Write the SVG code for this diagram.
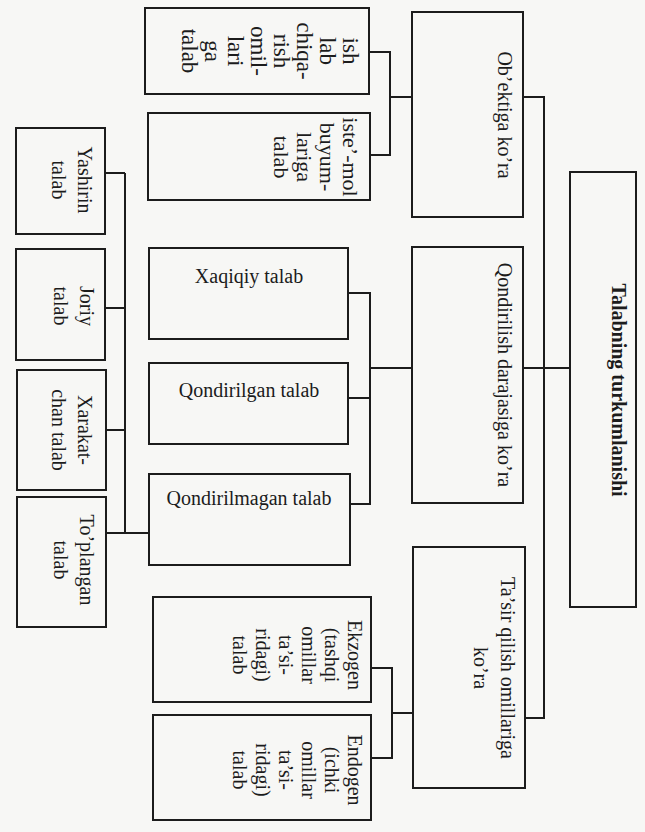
<svg xmlns="http://www.w3.org/2000/svg" width="645" height="832" viewBox="0 0 645 832">
<style>
.box{fill:none;stroke:#1c1c1c;stroke-width:2}
.ln{fill:none;stroke:#1c1c1c;stroke-width:2}
text{font-family:"Liberation Serif","Times New Roman",serif;font-size:20px;fill:#1c1c1c;text-anchor:middle}
.b{font-weight:bold}
.s23{font-size:23px}
.s22{font-size:22px}
</style>
<rect x="0" y="0" width="645" height="832" fill="#f7f7f5"/>
<g id="connectors">
<polyline class="ln" points="523,97 544,97 544,718 525,718"/>
<line class="ln" x1="570" y1="368" x2="523" y2="368"/>
<line class="ln" x1="412" y1="97" x2="390" y2="97"/>
<polyline class="ln" points="369,52 390,52 390,155 370,155"/>
<line class="ln" x1="412" y1="368" x2="370" y2="368"/>
<polyline class="ln" points="348,293 370,293 370,504 350,504"/>
<line class="ln" x1="348" y1="398" x2="370" y2="398"/>
<line class="ln" x1="413" y1="713" x2="392" y2="713"/>
<polyline class="ln" points="371,668 392,668 392,758 371,758"/>
<line class="ln" x1="149" y1="533" x2="125" y2="533"/>
<line class="ln" x1="125" y1="173" x2="125" y2="533"/>
<line class="ln" x1="105" y1="173" x2="125" y2="173"/>
<line class="ln" x1="105" y1="308" x2="125" y2="308"/>
<line class="ln" x1="106" y1="430" x2="125" y2="430"/>
<line class="ln" x1="106" y1="533" x2="125" y2="533"/>
</g>
<g id="title">
<rect class="box" x="570" y="172" width="66" height="435"/>
<text class="b" transform="translate(612,390) rotate(90)">Talabning turkumlanishi</text>
</g>
<g id="obektiga">
<rect class="box" x="412" y="12" width="111" height="205"/>
<text transform="translate(498,115) rotate(90)">Ob’ektiga ko’ra</text>
</g>
<g id="qondirilish">
<rect class="box" x="412" y="247" width="111" height="256"/>
<text transform="translate(498,375) rotate(90)">Qondirilish darajasiga ko’ra</text>
</g>
<g id="tasir">
<rect class="box" x="413" y="547" width="112" height="241"/>
<text transform="translate(501,668) rotate(90)"><tspan x="0" y="0">Ta’sir qilish omillariga</tspan><tspan x="0" y="27">ko’ra</tspan></text>
</g>
<g id="ishlab">
<rect class="box" x="145" y="8" width="224" height="86"/>
<text class="s23" transform="translate(343,51) rotate(90)"><tspan x="0" y="0">ish</tspan><tspan x="0" y="23">lab</tspan><tspan x="0" y="46">chiqa-</tspan><tspan x="0" y="69">rish</tspan><tspan x="0" y="92">omil-</tspan><tspan x="0" y="115">lari</tspan><tspan x="0" y="138">ga</tspan><tspan x="0" y="161">talab</tspan></text>
</g>
<g id="istemol">
<rect class="box" x="148" y="113" width="222" height="87"/>
<text class="s22" transform="translate(343,157) rotate(90)"><tspan x="0" y="0">iste’-mol</tspan><tspan x="0" y="23">buyum-</tspan><tspan x="0" y="46">lariga</tspan><tspan x="0" y="69">talab</tspan></text>
</g>
<g id="xaqiqiy">
<rect class="box" x="149" y="248" width="199" height="91"/>
<text x="249" y="283">Xaqiqiy talab</text>
</g>
<g id="qondirilgan">
<rect class="box" x="149" y="363" width="199" height="81"/>
<text x="249" y="397">Qondirilgan talab</text>
</g>
<g id="qondirilmagan">
<rect class="box" x="149" y="474" width="201" height="91"/>
<text x="249" y="505">Qondirilmagan talab</text>
</g>
<g id="ekzogen">
<rect class="box" x="153" y="597" width="218" height="105"/>
<text transform="translate(348,655) rotate(90)"><tspan x="0" y="0">Ekzogen</tspan><tspan x="0" y="23">(tashqi</tspan><tspan x="0" y="46">omillar</tspan><tspan x="0" y="69">ta’si-</tspan><tspan x="0" y="92">ridagi)</tspan><tspan x="0" y="115">talab</tspan></text>
</g>
<g id="endogen">
<rect class="box" x="153" y="715" width="218" height="105"/>
<text transform="translate(348,770) rotate(90)"><tspan x="0" y="0">Endogen</tspan><tspan x="0" y="23">(ichki</tspan><tspan x="0" y="46">omillar</tspan><tspan x="0" y="69">ta’si-</tspan><tspan x="0" y="92">ridagi)</tspan><tspan x="0" y="115">talab</tspan></text>
</g>
<g id="yashirin">
<rect class="box" x="16" y="128" width="89" height="106"/>
<text transform="translate(78,180) rotate(90)"><tspan x="0" y="0">Yashirin</tspan><tspan x="0" y="26">talab</tspan></text>
</g>
<g id="joriy">
<rect class="box" x="16" y="249" width="89" height="111"/>
<text transform="translate(80,306) rotate(90)"><tspan x="0" y="0">Joriy</tspan><tspan x="0" y="26">talab</tspan></text>
</g>
<g id="xarakat">
<rect class="box" x="17" y="370" width="89" height="120"/>
<text transform="translate(78,430) rotate(90)"><tspan x="0" y="0">Xarakat-</tspan><tspan x="0" y="26">chan talab</tspan></text>
</g>
<g id="toplangan">
<rect class="box" x="17" y="497" width="89" height="130"/>
<text transform="translate(80,560) rotate(90)"><tspan x="0" y="0">To’plangan</tspan><tspan x="0" y="26">talab</tspan></text>
</g>
</svg>
